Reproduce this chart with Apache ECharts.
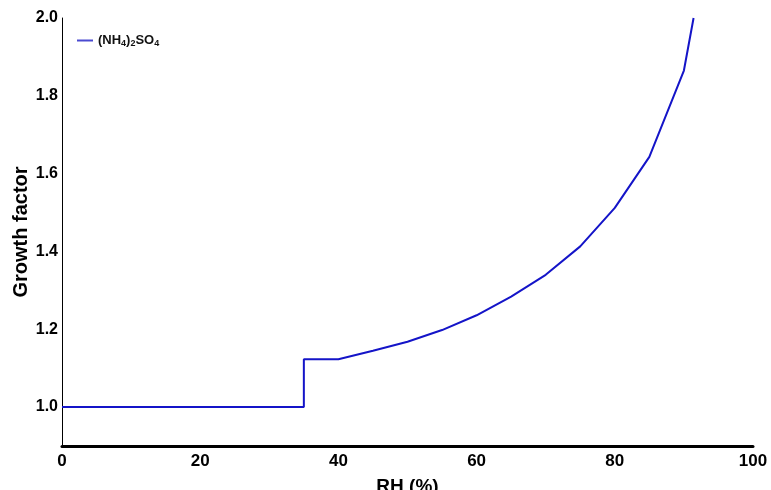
<!DOCTYPE html>
<html>
<head>
<meta charset="utf-8">
<script src="https://cdn.jsdelivr.net/npm/echarts@6/dist/echarts.min.js"></script>
<style>html,body{margin:0;padding:0;background:#fff;}#c{width:771px;height:490px;}</style>
</head>
<body>
<div id="c"></div>
<script>
var rh = [0, 35, 35, 40, 45, 50, 55, 60, 65, 70, 75, 80, 85, 90, 91.4];
var growthFactor = [1.0, 1.0, 1.123, 1.123, 1.145, 1.168, 1.198, 1.236, 1.284, 1.34, 1.413, 1.512, 1.643, 1.865, 2.0];
var seriesName = '(NH4)2SO4';
var xTicks = [0, 20, 40, 60, 80, 100];
var yTicks = [1.0, 1.2, 1.4, 1.6, 1.8, 2.0];

var chart = echarts.init(document.getElementById('c'));
var font = '"Liberation Sans", Arial, sans-serif';
chart.setOption({
  animation: false,
  grid: {left: 62, right: 18, top: 18, bottom: 44, containLabel: false, outerBoundsMode: 'none'},
  legend: {
    left: 72, top: 29,
    itemWidth: 16, itemHeight: 2, itemGap: 6,
    data: [{name: seriesName, icon: 'rect'}],
    formatter: function () { return '(NH{s|4}){s|2}SO{s|4}'; },
    textStyle: {
      fontFamily: font, fontSize: 13, fontWeight: 'bold', color: '#111',
      rich: {s: {fontFamily: font, fontSize: 9, fontWeight: 'bold', verticalAlign: 'bottom', padding: [7, 0, 0, 0], color: '#111'}}
    }
  },
  xAxis: {
    type: 'value', min: 0, max: 100, interval: 20,
    name: 'RH (%)', nameLocation: 'middle', nameGap: 31,
    nameTextStyle: {fontFamily: font, fontSize: 19, fontWeight: 'bold', color: '#000'},
    axisLine: {show: true, onZero: false, lineStyle: {color: '#000', width: 3}},
    axisTick: {show: false},
    splitLine: {show: false},
    axisLabel: {fontFamily: font, fontSize: 17, fontWeight: 'bold', color: '#000', margin: 7,
      formatter: function (v) { return xTicks.indexOf(v) >= 0 ? String(v) : ''; }}
  },
  yAxis: {
    type: 'value', min: 0.9, max: 2.0, interval: 0.1,
    name: 'Growth factor', nameLocation: 'middle', nameGap: 31, nameMoveOverlap: false,
    nameTextStyle: {fontFamily: font, fontSize: 20, fontWeight: 'bold', color: '#000'},
    axisLine: {show: true, lineStyle: {color: '#000', width: 1}},
    axisTick: {show: false},
    splitLine: {show: false},
    axisLabel: {fontFamily: font, fontSize: 16, fontWeight: 'bold', color: '#000', margin: 4,
      formatter: function (v) {
        var r = Math.round(v * 10) / 10;
        for (var i = 0; i < yTicks.length; i++) { if (Math.abs(yTicks[i] - r) < 1e-6) return r.toFixed(1); }
        return '';
      }}
  },
  series: [{
    name: seriesName, type: 'line', symbol: 'none',
    data: rh.map(function (x, i) { return [x, growthFactor[i]]; }),
    lineStyle: {color: '#1414c8', width: 2},
    itemStyle: {color: '#4a4ad0'}
  }]
});
</script>
</body>
</html>
